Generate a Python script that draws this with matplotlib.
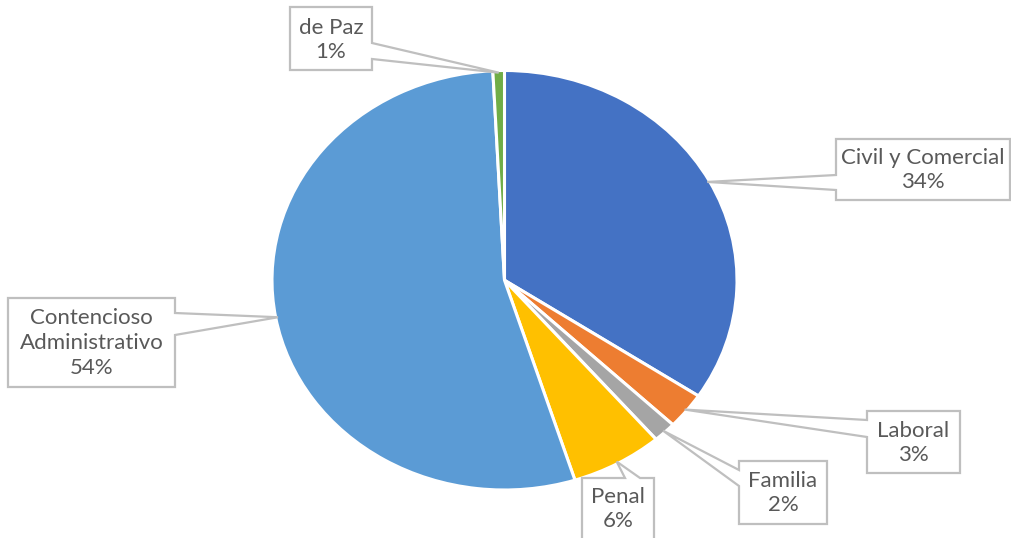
import numpy as np
import matplotlib
matplotlib.use("Agg")
import matplotlib.pyplot as plt
from matplotlib.patches import Polygon

categories = ["Civil y Comercial", "Laboral", "Familia", "Penal",
              "Contencioso\nAdministrativo", "de Paz"]
values = [34.3, 2.8, 1.6, 6.4, 54.1, 0.8]
pct_labels = ["34%", "3%", "2%", "6%", "54%", "1%"]
colors = ["#4472C4", "#ED7D31", "#A5A5A5", "#FFC000", "#5B9BD5", "#70AD47"]

W, H = 1012, 538
fig = plt.figure(figsize=(W / 100, H / 100), dpi=100)
fig.patch.set_facecolor("white")

# pie axes (elliptical, as in the reference)
pl, pr, pt, pb = 272, 737, 70.5, 490
ax = fig.add_axes([pl / W, (H - pb) / H, (pr - pl) / W, (pb - pt) / H])
wedges, _ = ax.pie(values, colors=colors, startangle=90, counterclock=False,
                   wedgeprops=dict(edgecolor="white", linewidth=2.2))
ax.set_aspect("auto")
ax.set_xlim(-1, 1)
ax.set_ylim(-1, 1)
ax.axis("off")

# overlay axes in pixel coordinates for callouts
ov = fig.add_axes([0, 0, 1, 1])
ov.set_xlim(0, W)
ov.set_ylim(H, 0)
ov.axis("off")
ov.patch.set_alpha(0)

# box layout: (x0, y0, x1, y1), side, base1, base2, text centre y
boxes = [
    ((836, 139, 1010, 200), "left", 175, 190, 170),
    ((867, 411, 960, 473), "left", 420, 437, 443),
    ((739, 461, 827, 524), "left", 470, 486, 493),
    ((582, 478, 654, 545), "top", 625, 640, 509),
    ((8, 298, 175, 387), "right", 313, 335, 343),
    ((290, 7, 372, 70), "right", 43, 59, 40),
]

to_px = ax.transData + ov.transData.inverted()

for w, cat, pct, (bx, side, b1, b2, ty) in zip(wedges, categories, pct_labels, boxes):
    mid = np.deg2rad((w.theta1 + w.theta2) / 2)
    tip = to_px.transform((0.99 * np.cos(mid), 0.99 * np.sin(mid)))
    x0, y0, x1, y1 = bx
    if side == "left":
        verts = [(x0, y0), (x1, y0), (x1, y1), (x0, y1), (x0, b2), tuple(tip), (x0, b1)]
    elif side == "right":
        verts = [(x0, y0), (x1, y0), (x1, b1), tuple(tip), (x1, b2), (x1, y1), (x0, y1)]
    else:  # top
        verts = [(x0, y0), (b1, y0), tuple(tip), (b2, y0), (x1, y0), (x1, y1), (x0, y1)]
    poly = Polygon(verts, closed=True, facecolor="white", edgecolor="#BFBFBF",
                   linewidth=1.6, zorder=3, clip_on=False)
    ov.add_patch(poly)
    cx = (x0 + x1) / 2
    ov.text(cx, ty, f"{cat}\n{pct}", ha="center", va="center", fontsize=16,
            color="#595959", family="Lato", linespacing=1.3, zorder=4)

fig.savefig("out.png", dpi=100, facecolor="white")
